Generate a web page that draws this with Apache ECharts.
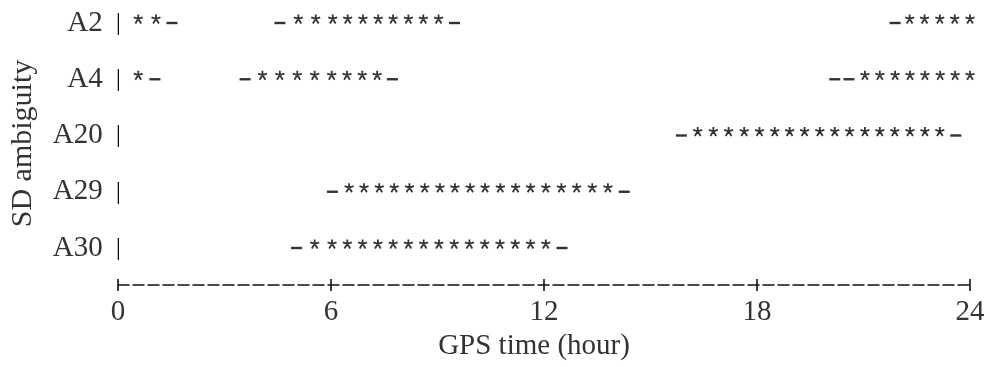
<!DOCTYPE html>
<html><head><meta charset="utf-8">
<script src="https://cdn.jsdelivr.net/npm/echarts@6/dist/echarts.min.js"></script>
<style>html,body{margin:0;padding:0;background:#fff}#c{width:990px;height:367px}</style>
</head><body><div id="c"></div>
<script>
// Categories (top to bottom) and x-axis ticks
const categories = ['A2', 'A4', 'A20', 'A29', 'A30'];
const xTicks = [0, 6, 12, 18, 24];

// Hours at which each row shows a '*' (fixed) or '-' (float) mark
const a2Stars = [0.57, 1.07, 5.08, 5.57, 6.05, 6.47, 6.90, 7.33, 7.75, 8.18, 8.60, 9.03, 22.30, 22.72, 23.15, 23.57, 24.0];
const a2Dashes = [1.52, 4.56, 9.48, 21.89];
const a4Stars = [0.57, 4.07, 4.56, 5.05, 5.54, 6.02, 6.45, 6.88, 7.30, 21.04, 21.46, 21.89, 22.31, 22.73, 23.16, 23.58, 24.0];
const a4Dashes = [1.04, 3.58, 7.73, 20.19, 20.59];
const a20Stars = [16.33, 16.77, 17.20, 17.64, 18.07, 18.50, 18.92, 19.34, 19.77, 20.19, 20.61, 21.04, 21.46, 21.88, 22.31, 22.73, 23.15];
const a20Dashes = [15.87, 23.60];
const a29Stars = [6.51, 6.93, 7.36, 7.78, 8.21, 8.64, 9.07, 9.49, 9.92, 10.34, 10.77, 11.20, 11.62, 12.05, 12.49, 12.92, 13.36, 13.80];
const a29Dashes = [6.04, 14.26];
const a30Stars = [5.54, 6.03, 6.46, 6.89, 7.32, 7.75, 8.18, 8.61, 9.04, 9.47, 9.90, 10.33, 10.76, 11.19, 11.62, 12.05];
const a30Dashes = [5.03, 12.51];

const starRows = { A2: a2Stars, A4: a4Stars, A20: a20Stars, A29: a29Stars, A30: a30Stars };
const dashRows = { A2: a2Dashes, A4: a4Dashes, A20: a20Dashes, A29: a29Dashes, A30: a30Dashes };

const starData = [];
const dashData = [];
categories.forEach(c => {
  starRows[c].forEach(h => starData.push([h, c]));
  dashRows[c].forEach(h => dashData.push([h, c]));
});

const SERIF = "'Liberation Serif', 'DejaVu Serif', serif";
const TXT = '#333';
const INK = '#111';
const starPath = 'path://M5,0L5,4.6M0,3L5,4.6L10,3M1.8,9.6L5,4.6L8.2,9.6';

const chart = echarts.init(document.getElementById('c'), null, { renderer: 'canvas' });
chart.setOption({
  animation: false,
  backgroundColor: '#fff',
  grid: { left: 115, right: 20, top: 23, bottom: 119, containLabel: false },
  xAxis: [{
    type: 'value', min: xTicks[0], max: xTicks[xTicks.length - 1], interval: xTicks[1] - xTicks[0],
    position: 'bottom', offset: 37,
    axisLine: { show: true, lineStyle: { color: INK, width: 1.5, type: [11, 4] } },
    axisTick: { show: true, length: 6, lineStyle: { color: INK, width: 1.6 } },
    axisLabel: { margin: 13, fontFamily: SERIF, fontSize: 29, color: TXT },
    splitLine: { show: false },
    name: 'GPS time (hour)', nameLocation: 'middle', nameGap: 44,
    nameTextStyle: { fontFamily: SERIF, fontSize: 29, color: TXT, padding: [0, 20, 0, 0] }
  }, {
    type: 'value', min: xTicks[0], max: xTicks[xTicks.length - 1], interval: xTicks[1] - xTicks[0],
    position: 'bottom', offset: 37,
    axisLine: { show: false },
    axisTick: { show: true, inside: true, length: 6, lineStyle: { color: INK, width: 1.6 } },
    axisLabel: { show: false },
    splitLine: { show: false }
  }],
  yAxis: {
    type: 'category', data: categories, inverse: true, boundaryGap: false,
    axisLine: { show: false }, axisTick: { show: false }, splitLine: { show: false },
    axisLabel: {
      margin: -3,
      formatter: v => '{n|' + v + '}{b||}',
      rich: {
        n: { fontFamily: SERIF, fontSize: 29, color: TXT, padding: [0, 13, 0, 0] },
        b: { fontFamily: SERIF, fontSize: 26, color: INK }
      }
    },
    name: 'SD ambiguity', nameLocation: 'middle', nameGap: 80, nameRotate: 90,
    nameTextStyle: { fontFamily: SERIF, fontSize: 30, color: TXT, padding: [0, 16, 0, 0] }
  },
  series: [{
    type: 'scatter', name: 'fixed', xAxisIndex: 0, data: starData,
    symbol: starPath, symbolSize: [9, 9], symbolOffset: [0, -4],
    itemStyle: { color: 'transparent', borderColor: '#000', borderWidth: 1.8 },
    silent: true
  }, {
    type: 'scatter', name: 'float', xAxisIndex: 0, data: dashData,
    symbol: 'rect', symbolSize: [11, 2.4],
    itemStyle: { color: '#000' },
    silent: true
  }]
});
</script></body></html>
